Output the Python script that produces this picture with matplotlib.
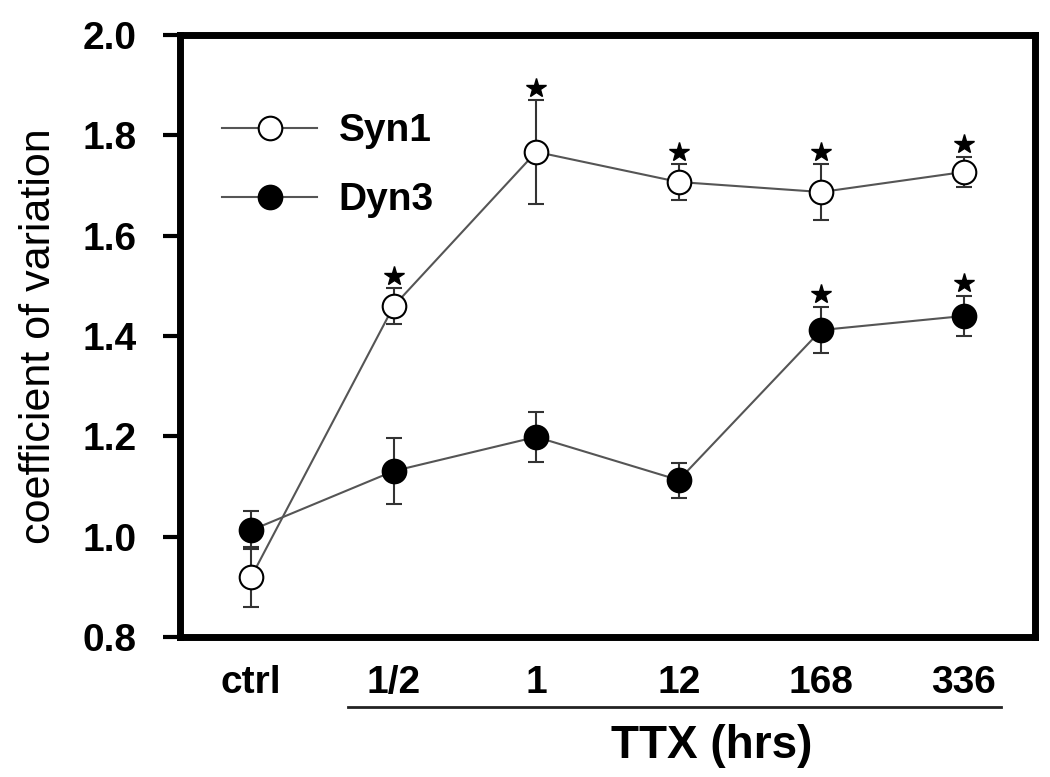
import numpy as np
import matplotlib
matplotlib.use("Agg")
import matplotlib.pyplot as plt
from matplotlib import transforms

plt.rcParams['font.family'] = ['Liberation Sans', 'DejaVu Sans']

#----------------------------------------------------------------
# data

groups = ["ctrl", "1/2", "1", "12", "168", "336"]

syn1_mean = [0.92, 1.46, 1.767, 1.707, 1.687, 1.727]
syn1_err = [0.06, 0.035, 0.103, 0.035, 0.055, 0.03]
syn1_sig = [False, True, True, True, True, True]

dyn3_mean = [1.013, 1.131, 1.199, 1.113, 1.412, 1.44]
dyn3_err = [0.038, 0.066, 0.05, 0.035, 0.046, 0.04]
dyn3_sig = [False, False, False, False, True, True]

y_ticks = [0.8, 1.0, 1.2, 1.4, 1.6, 1.8, 2.0]

#----------------------------------------------------------------
# plot

fig = plt.figure(figsize=(10.5, 7.77), dpi=100)
ax = fig.add_axes([0.1714, 0.18, 0.8143, 0.775])

x = np.arange(len(groups))
line_col = '#555555'

syn1 = ax.errorbar(x, syn1_mean, yerr=syn1_err, color=line_col, lw=1.5,
                   marker='o', ms=17, mfc='white', mec='black', mew=1.5,
                   ecolor='#333333', elinewidth=1.5, capsize=5.5, capthick=1.5,
                   zorder=3)
dyn3 = ax.errorbar(x, dyn3_mean, yerr=dyn3_err, color=line_col, lw=1.5,
                   marker='o', ms=17, mfc='black', mec='black', mew=1.5,
                   ecolor='#333333', elinewidth=1.5, capsize=5.5, capthick=1.5,
                   zorder=4)

# significance stars just above the upper error cap
star_tr = transforms.offset_copy(ax.transData, fig=fig, x=0, y=9, units='points')
for mean, err, sig in [(syn1_mean, syn1_err, syn1_sig), (dyn3_mean, dyn3_err, dyn3_sig)]:
    top = np.array(mean) + np.array(err)
    sel = np.array(sig)
    ax.plot(x[sel], top[sel], linestyle='none', marker='*', ms=15,
            color='black', transform=star_tr, zorder=5, clip_on=False)

ax.set_xlim(-0.5, 5.5)
ax.set_ylim(0.8, 2.0)
ax.set_yticks(y_ticks)
ax.set_yticklabels([f"{v:.1f}" for v in y_ticks])
ax.set_xticks(x)
ax.set_xticklabels(groups)

for s in ax.spines.values():
    s.set_linewidth(5)
ax.tick_params(axis='y', direction='out', length=12, width=3, pad=19,
               labelsize=28)
ax.tick_params(axis='x', length=0, pad=20, labelsize=28)
for lab in ax.get_xticklabels() + ax.get_yticklabels():
    lab.set_fontweight('bold')

ax.set_ylabel('coefficient of variation', fontsize=31)
ax.yaxis.set_label_coords(-0.141, 0.5)

# TTX bracket line and label under the treated groups
xt = ax.get_xaxis_transform()
ax.plot([0.68, 5.26], [-0.116, -0.116], color='#222222', lw=2,
        transform=xt, clip_on=False)
ax.text(3.23, -0.18, 'TTX (hrs)', transform=xt, ha='center', va='center',
        fontsize=33, fontweight='bold')

# legend shows only line + marker, no error bars
ax.legend([syn1[0], dyn3[0]], ['Syn1', 'Dyn3'],
          loc='upper left', bbox_to_anchor=(0.049, 0.87), frameon=False,
          borderpad=0, borderaxespad=0, handlelength=2.45,
          handletextpad=0.55, labelspacing=0.85,
          prop={'size': 28, 'weight': 'bold'})

fig.savefig('out.png', dpi=100)
